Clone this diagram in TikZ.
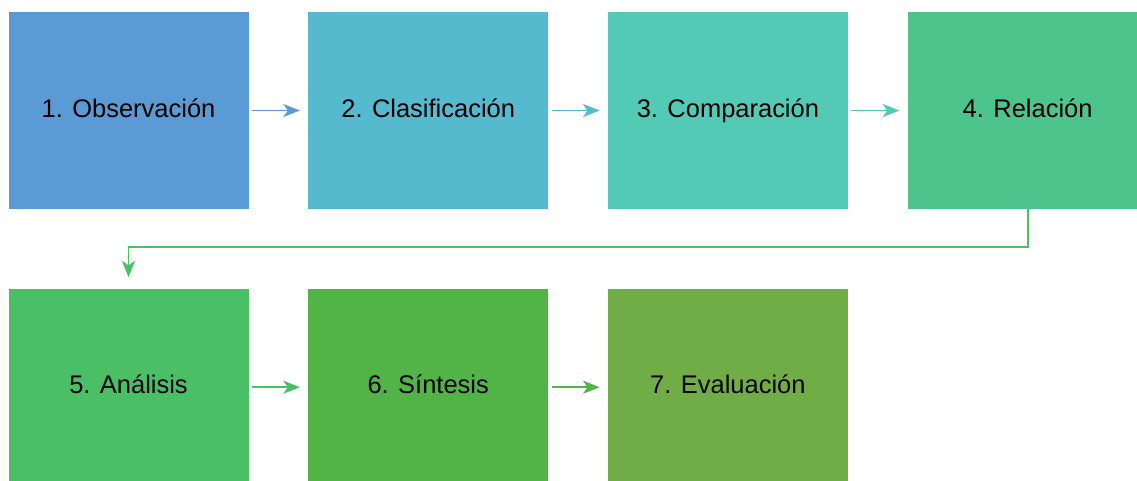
\documentclass[tikz,border=0pt]{standalone}
\usepackage{fontspec}
\setmainfont{Liberation Sans}
\usetikzlibrary{arrows.meta,positioning,calc}
\definecolor{stepA}{HTML}{5B9BD5}
\definecolor{stepB}{HTML}{55BACE}
\definecolor{stepC}{HTML}{52CAB6}
\definecolor{stepD}{HTML}{4DC48B}
\definecolor{stepE}{HTML}{4BBF65}
\definecolor{stepF}{HTML}{52B447}
\definecolor{stepG}{HTML}{70AD47}

\begin{document}
\begin{tikzpicture}[font=\fontsize{14.5}{17}\selectfont,node distance=1.18cm,
   box/.style={fill=#1,minimum width=4.8cm,minimum height=3.94cm,
               inner sep=0pt,text height=0.85em,text depth=0.1em,align=center},
   arr/.style={draw=#1,line width=1.1pt,shorten <=0.06cm,shorten >=0.16cm,
               -{Stealth[length=3.3mm,width=2.6mm,inset=0.9mm]}}]
  \clip (0,0) rectangle (22.74,-9.6);
  \fill[white] (0,0) rectangle (22.74,-9.6);
  \node[box=stepA] (obs) at (2.57,-2.21) {1. Observación};
  \node[box=stepB,right=of obs] (cla) {2. Clasificación};
  \node[box=stepC,right=of cla] (com) {3. Comparación};
  \node[box=stepD,right=of com] (rel) {4. Relación};
  \node[box=stepE,below=1.58cm of obs] (ana) {5. Análisis};
  \node[box=stepF,right=of ana] (sin) {6. Síntesis};
  \node[box=stepG,right=of sin] (eva) {7. Evaluación};
  \coordinate (bend) at ($(rel.south)+(0,-0.76)$);
  \draw[arr=stepA] (obs) -- (cla);
  \draw[arr=stepB] (cla) -- (com);
  \draw[arr=stepC] (com) -- (rel);
  \draw[arr=stepE,shorten <=0pt,shorten >=0.22cm] (rel.south) -- (bend) -| (ana.north);
  \draw[arr=stepE] (ana) -- (sin);
  \draw[arr=stepF] (sin) -- (eva);
\end{tikzpicture}
\end{document}
